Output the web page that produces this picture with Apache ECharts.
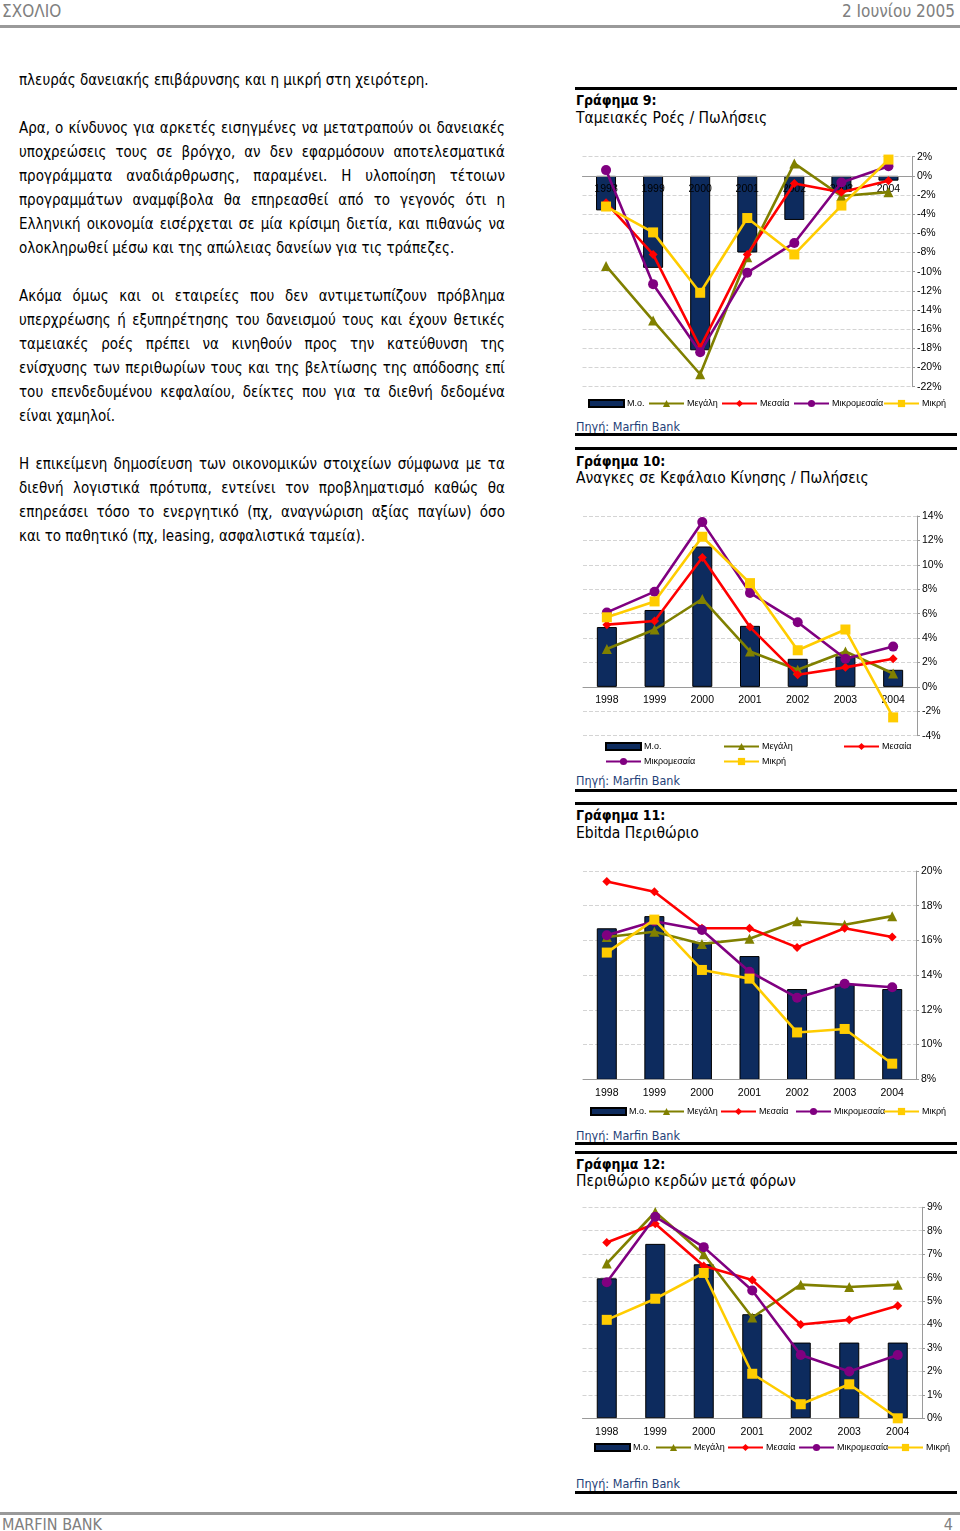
<!DOCTYPE html>
<html><head><meta charset="utf-8">
<script src="https://cdn.jsdelivr.net/npm/echarts@6/dist/echarts.min.js"></script>
<style>
html,body{margin:0;padding:0;background:#fff;}
#page{position:relative;width:960px;height:1531px;overflow:hidden;font-family:"DejaVu Sans",sans-serif;font-stretch:condensed;color:#000;}
.abs{position:absolute;white-space:nowrap;}
.line{position:absolute;left:19px;width:486px;height:24px;line-height:24px;font-size:15px;white-space:nowrap;}
.just{display:flex;justify-content:space-between;}
.rule{position:absolute;left:575px;width:382px;height:2.5px;background:#000;}
.ttl{position:absolute;left:576px;font-weight:bold;font-size:14px;line-height:16px;}
.sub{position:absolute;left:576px;font-size:15.5px;line-height:18px;}
.src{position:absolute;left:576px;font-size:12.5px;line-height:14px;color:#1F3F78;}
#chart{position:absolute;left:0;top:0;width:960px;height:1531px;}
</style></head>
<body><div id="page">
<div class="abs" style="left:2px;top:1px;font-size:17px;color:#808080;">ΣΧΟΛΙΟ</div>
<div class="abs" style="right:5px;top:1px;font-size:17px;color:#808080;">2 Ιουνίου 2005</div>
<div class="abs" style="left:0;top:25px;width:960px;height:3px;background:#9a9a9a;"></div>
<div class="abs" style="left:0;top:1512px;width:960px;height:3px;background:#9a9a9a;"></div>
<div class="abs" style="left:2px;top:1515px;font-size:16px;color:#808080;">MARFIN BANK</div>
<div class="abs" style="right:7px;top:1515px;font-size:16px;color:#808080;">4</div>
<div id="text"></div>
<div id="blocks"></div>
<div id="chart"></div>
</div>
<script>
// ---------- body text ----------
const bodyLines = [
 ['πλευράς δανειακής επιβάρυνσης και η μικρή στη χειρότερη.', false],
 null,
 ['Αρα, ο κίνδυνος για αρκετές εισηγμένες να μετατραπούν οι δανειακές', true],
 ['υποχρεώσεις τους σε βρόγχο, αν δεν εφαρμόσουν αποτελεσματικά', true],
 ['προγράμματα αναδιάρθρωσης, παραμένει. Η υλοποίηση τέτοιων', true],
 ['προγραμμάτων αναμφίβολα θα επηρεασθεί από το γεγονός ότι η', true],
 ['Ελληνική οικονομία εισέρχεται σε μία κρίσιμη διετία, και πιθανώς να', true],
 ['ολοκληρωθεί μέσω και της απώλειας δανείων για τις τράπεζες.', false],
 null,
 ['Ακόμα όμως και οι εταιρείες που δεν αντιμετωπίζουν πρόβλημα', true],
 ['υπερχρέωσης ή εξυπηρέτησης του δανεισμού τους και έχουν θετικές', true],
 ['ταμειακές ροές πρέπει να κινηθούν προς την κατεύθυνση της', true],
 ['ενίσχυσης των περιθωρίων τους και της βελτίωσης της απόδοσης επί', true],
 ['του επενδεδυμένου κεφαλαίου, δείκτες που για τα διεθνή δεδομένα', true],
 ['είναι χαμηλοί.', false],
 null,
 ['Η επικείμενη δημοσίευση των οικονομικών στοιχείων σύμφωνα με τα', true],
 ['διεθνή λογιστικά πρότυπα, εντείνει τον προβληματισμό καθώς θα', true],
 ['επηρεάσει τόσο το ενεργητικό (πχ, αναγνώριση αξίας παγίων) όσο', true],
 ['και το παθητικό (πχ, leasing, ασφαλιστικά ταμεία).', false]
];
const textEl = document.getElementById('text');
bodyLines.forEach((l, i) => {
  if (!l) return;
  const d = document.createElement('div');
  d.className = 'line' + (l[1] ? ' just' : '');
  d.style.top = (68 + i * 24) + 'px';
  if (l[1]) {
    l[0].split(' ').forEach(w => { const s = document.createElement('span'); s.textContent = w; d.appendChild(s); });
  } else d.textContent = l[0];
  textEl.appendChild(d);
});

// ---------- chart blocks (titles, sources, rules) ----------
const blockTitles = ['Γράφημα 9:', 'Γράφημα 10:', 'Γράφημα 11:', 'Γράφημα 12:'];
const blockSubs = ['Ταμειακές Ροές / Πωλήσεις', 'Αναγκες σε Κεφάλαιο Κίνησης / Πωλήσεις', 'Ebitda Περιθώριο', 'Περιθώριο κερδών μετά φόρων'];
const sourceText = 'Πηγή: Marfin Bank';
const blockLayout = [
  {rt:87, t:100, s:118, src:428, rb:433},
  {rt:447, t:461, s:478, src:782, rb:789},
  {rt:802, t:815, s:833, src:1137, rb:1142},
  {rt:1151, t:1164, s:1181, src:1485, rb:1491}
];
const blocksEl = document.getElementById('blocks');
blockLayout.forEach((b, i) => {
  blocksEl.insertAdjacentHTML('beforeend',
    `<div class="rule" style="top:${b.rt}px"></div>` +
    `<div class="ttl abs" style="top:${b.t - 8}px">${blockTitles[i]}</div>` +
    `<div class="sub abs" style="top:${b.s - 9}px">${blockSubs[i]}</div>` +
    `<div class="src abs" style="top:${b.src - 8}px">${sourceText}</div>` +
    `<div class="rule" style="top:${b.rb}px"></div>`);
});

// ---------- data ----------
const years = ['1998', '1999', '2000', '2001', '2002', '2003', '2004'];
const seriesNames = ['Μ.ο.', 'Μεγάλη', 'Μεσαία', 'Μικρομεσαία', 'Μικρή'];

// Γράφημα 9
const c9Avg   = [-3.6, -9.6, -18.2, -8.0, -4.6, -1.6, -0.5];
const c9Large = [-9.4, -15.1, -20.7, -8.5, 1.3, -2.1, -1.7];
const c9Mid   = [-2.8, -8.2, -17.9, -8.2, -0.8, -1.7, -0.5];
const c9SmMid = [0.6, -11.3, -18.4, -10.1, -7.0, -0.7, 1.0];
const c9Small = [-3.2, -5.9, -12.2, -4.4, -8.2, -3.1, 1.7];
// Γράφημα 10
const c10Avg   = [4.9, 6.3, 11.5, 5.0, 2.3, 2.5, 1.4];
const c10Large = [3.1, 4.7, 7.2, 2.9, 1.4, 2.9, 1.1];
const c10Mid   = [5.1, 5.4, 10.6, 4.9, 1.0, 1.6, 2.3];
const c10SmMid = [6.1, 7.8, 13.5, 7.7, 5.3, 2.3, 3.3];
const c10Small = [5.7, 7.0, 12.3, 8.5, 3.0, 4.7, -2.5];
// Γράφημα 11
const c11Avg   = [16.7, 17.4, 15.9, 15.1, 13.2, 13.5, 13.2];
const c11Large = [16.2, 16.5, 15.8, 16.1, 17.1, 16.9, 17.4];
const c11Mid   = [19.4, 18.8, 16.7, 16.7, 15.6, 16.7, 16.2];
const c11SmMid = [16.3, 17.1, 16.6, 14.2, 12.7, 13.5, 13.3];
const c11Small = [15.3, 17.2, 14.3, 13.8, 10.7, 10.9, 8.9];
// Γράφημα 12
const c12Avg   = [5.97, 7.44, 6.57, 4.44, 3.23, 3.23, 3.23];
const c12Large = [6.6, 8.8, 7.0, 4.3, 5.7, 5.6, 5.7];
const c12Mid   = [7.5, 8.3, 6.5, 5.9, 4.0, 4.2, 4.8];
const c12SmMid = [5.8, 8.6, 7.3, 5.45, 2.7, 2.0, 2.7];
const c12Small = [4.2, 5.1, 6.2, 1.9, 0.6, 1.45, 0.0];

// y axis ranges [min, max, interval] (percent)
const yRanges = [[-22, 2, 2], [-4, 14, 2], [8, 20, 2], [0, 9, 1]];

const chartData = [
  [c9Avg, c9Large, c9Mid, c9SmMid, c9Small],
  [c10Avg, c10Large, c10Mid, c10SmMid, c10Small],
  [c11Avg, c11Large, c11Mid, c11SmMid, c11Small],
  [c12Avg, c12Large, c12Mid, c12SmMid, c12Small]
];

// ---------- layout ----------
const grids = [
  {left: 582.5, top: 156.7, width: 329.5, height: 230},
  {left: 583, top: 516, width: 334, height: 219.7},
  {left: 583, top: 871, width: 333, height: 208.3},
  {left: 582.5, top: 1207.3, width: 339.5, height: 211}
];
// legend positions: [left, centerY] per series
const legendPos = [
  [[588, 404], [648, 404], [721, 404], [793, 404], [883, 404]],
  [[605, 747], [723, 747], [843, 747], [605, 762], [723, 762]],
  [[590, 1112], [648, 1112], [720, 1112], [795, 1112], [883, 1112]],
  [[594, 1448], [655, 1448], [727, 1448], [798, 1448], [887, 1448]]
];
const colors = ['#0D2B5E', '#808000', '#FF0000', '#800080', '#FFCC00'];
const symbols = [null, 'triangle', 'diamond', 'circle', 'rect'];
const symSizes = [0, 10, 9, 10, 10];

const AX_FONT = 'Liberation Sans, Arial, sans-serif';
const xAxes = [], yAxes = [], series = [], legends = [];
grids.forEach((g, gi) => {
  const r = yRanges[gi];
  // place the category axis at the 0% level when 0 lies inside the range
  const zeroVal = (r[0] < 0 && r[1] > 0) ? 0 : r[0];
  const zeroOffset = -g.height * (zeroVal - r[0]) / (r[1] - r[0]);
  xAxes.push({
    type: 'category', gridIndex: gi, data: years, offset: zeroOffset, z: 2,
    axisLine: {onZero: false, lineStyle: {color: '#9a9a9a', width: 1}},
    axisTick: {show: false},
    axisLabel: {margin: 8, fontSize: 10.5, color: '#000', fontFamily: AX_FONT, hideOverlap: false}
  });
  yAxes.push({
    type: 'value', gridIndex: gi, position: 'right', min: r[0], max: r[1], interval: r[2],
    axisLine: {show: true, lineStyle: {color: '#9a9a9a'}},
    axisTick: {show: true, length: 3, lineStyle: {color: '#9a9a9a'}},
    splitLine: {show: true, lineStyle: {type: 'dashed', color: '#d4d4d4'}},
    axisLabel: {margin: 5, fontSize: 10.5, color: '#000', fontFamily: AX_FONT, formatter: v => v + '%'}
  });
  chartData[gi].forEach((vals, si) => {
    if (si === 0) {
      series.push({
        type: 'bar', name: seriesNames[0], xAxisIndex: gi, yAxisIndex: gi, data: vals,
        barWidth: 20, itemStyle: {color: colors[0], borderColor: '#000', borderWidth: 1}, z: 1
      });
    } else {
      series.push({
        type: 'line', name: seriesNames[si], xAxisIndex: gi, yAxisIndex: gi, data: vals,
        symbol: symbols[si], symbolSize: symSizes[si],
        lineStyle: {color: colors[si], width: 2.6},
        itemStyle: {color: colors[si], borderWidth: 0}, z: 3 + si
      });
    }
    const lp = legendPos[gi][si];
    legends.push({
      data: [si === 0 ? {name: seriesNames[0], icon: 'rect'} : seriesNames[si]],
      left: lp[0], top: lp[1] - 5, padding: 0, itemWidth: 35, itemHeight: si === 0 ? 7 : 9,
      itemGap: 0, selectedMode: false,
      textStyle: {fontSize: 9, color: '#000', fontFamily: AX_FONT, padding: [0, 0, 0, -2]}
    });
  });
});

const chart = echarts.init(document.getElementById('chart'), null, {renderer: 'canvas'});
chart.setOption({
  animation: false,
  backgroundColor: 'transparent',
  grid: grids.map(g => Object.assign({containLabel: false}, g)),
  xAxis: xAxes, yAxis: yAxes, series: series, legend: legends
});
</script>
</body></html>
